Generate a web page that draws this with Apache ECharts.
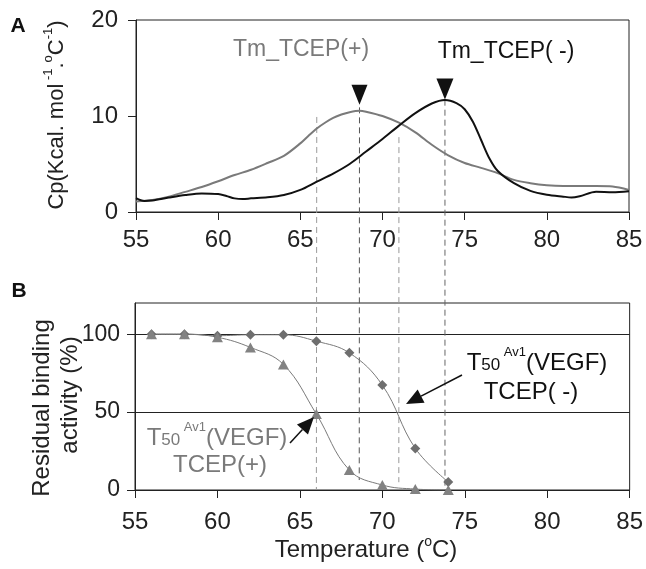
<!DOCTYPE html>
<html><head><meta charset="utf-8">
<script src="https://cdn.jsdelivr.net/npm/echarts@6/dist/echarts.min.js"></script>
<style>html,body{margin:0;padding:0;background:#fff}#c{width:646px;height:569px}</style>
</head><body><div id="c"></div>
<script>
// ---- Panel A: DSC curves (Cp vs temperature) ----
const tempPlus = [55,56,57,58,59,60,61,62,63,64,65,65.5,66,66.5,67,67.5,68,68.6,69,70,71,72,73,74,75,76,77,78,79,80,81,82,83,84,85];
const cpPlus   = [1.1,1.25,1.6,2.1,2.6,3.2,3.85,4.4,5.1,5.85,7.15,7.95,8.7,9.3,9.8,10.15,10.4,10.55,10.45,10.0,9.3,8.3,7.0,5.9,5.1,4.6,4.05,3.35,3.0,2.78,2.7,2.7,2.7,2.65,2.3];
const tempMinus = [55,55.5,56,57,58,59,60,60.5,61,61.5,62,63,64,65,66,67,68,69,70,71,72,73,73.8,74.5,75,75.5,76,76.5,77,78,79,80,81,81.5,82,83,84,85];
const cpMinus   = [1.45,1.15,1.2,1.5,1.77,1.94,1.87,1.67,1.42,1.35,1.42,1.53,1.77,2.3,3.16,4.0,5.0,6.3,7.6,9.0,10.3,11.3,11.67,11.35,10.7,9.4,7.5,5.6,4.3,3.0,2.2,1.8,1.6,1.52,1.65,2.1,2.05,2.15];
const peakPlus  = [68.6, 10.55];
const peakMinus = [73.8, 11.67];

// ---- Panel B: residual binding activity ----
const tempB    = [56,58,60,62,64,66,68,70,72,74];
const actPlus  = [100,100,98,91.5,80.6,48.7,12.8,3.2,0.6,0];
const actMinus = [100,100,99,99.6,99.6,95.5,88,67.3,26.7,5.1];

// ---- axes ----
const xTicks = [55,60,65,70,75,80,85];
const yTicksA = [0,10,20];
const yTicksB = [0,50,100];

// ---- dashed reference lines (temperature, top start in Cp, bottom end in %) ----
const refTemps     = [66, 68.6, 71, 73.8];
const refTopCp     = [9.9, 10.9, 7.8, 11.7];
const refBottomAct = [0, 6.4, 5, 0];

const FONT = 'Liberation Sans, Arial, sans-serif';
const zip = (a, b) => a.map((v, i) => [v, b[i]]);

function xAxisCfg(grid, margin) {
  return {
    gridIndex: grid, type: 'value', min: xTicks[0], max: xTicks[xTicks.length-1], interval: 5,
    axisLine: {show: true, lineStyle: {color: '#222', width: 1}},
    axisTick: {show: true, length: 8, lineStyle: {color: '#222'}},
    axisLabel: {color: '#222', fontSize: 24, fontFamily: FONT, margin: margin},
    splitLine: {show: false}
  };
}

const chart = echarts.init(document.getElementById('c'), null, {renderer: 'canvas'});
chart.setOption({
  animation: false,
  grid: [
    {left: 136, right: 17, top: 20, height: 192, show: true, borderColor: '#222', borderWidth: 1},
    {left: 135, right: 14, top: 303, height: 187, show: true, borderColor: '#222', borderWidth: 1}
  ],
  xAxis: [xAxisCfg(0, 16), xAxisCfg(1, 20)],
  yAxis: [
    {gridIndex: 0, type: 'value', min: yTicksA[0], max: yTicksA[yTicksA.length-1], interval: 10,
     axisLine: {show: true, lineStyle: {color: '#222'}},
     axisTick: {show: true, length: 8, lineStyle: {color: '#222'}},
     axisLabel: {color: '#222', fontSize: 24, fontFamily: FONT, margin: 18},
     splitLine: {show: false}},
    {gridIndex: 1, type: 'value', min: 0, max: 120, interval: 50,
     axisLine: {show: true, lineStyle: {color: '#222'}},
     axisTick: {show: true, length: 8, lineStyle: {color: '#222'}, customValues: yTicksB},
     axisLabel: {color: '#222', fontSize: 23, fontFamily: FONT, margin: 15,
       formatter: v => (yTicksB.indexOf(v) >= 0 ? String(v) : '')},
     splitLine: {show: true, lineStyle: {color: '#222', width: 1}}}
  ],
  series: [
    {type: 'line', xAxisIndex: 0, yAxisIndex: 0, data: zip(tempPlus, cpPlus), smooth: 0.3,
     showSymbol: false, lineStyle: {color: '#7a7a7a', width: 2},
     markPoint: {symbol: 'triangle', symbolRotate: 180, symbolSize: [16, 20], symbolOffset: [0, -16],
       itemStyle: {color: '#111'}, label: {show: false}, data: [{coord: peakPlus}]}},
    {type: 'line', xAxisIndex: 0, yAxisIndex: 0, data: zip(tempMinus, cpMinus), smooth: 0.3,
     showSymbol: false, lineStyle: {color: '#111', width: 2},
     markPoint: {symbol: 'triangle', symbolRotate: 180, symbolSize: [17, 21], symbolOffset: [0, -11],
       itemStyle: {color: '#111'}, label: {show: false}, data: [{coord: peakMinus}]}},
    {type: 'line', xAxisIndex: 1, yAxisIndex: 1, data: zip(tempB, actMinus), smooth: 0.4,
     symbol: 'diamond', symbolSize: [10, 10], itemStyle: {color: '#6e6e6e'},
     lineStyle: {color: '#7a7a7a', width: 1}},
    {type: 'line', xAxisIndex: 1, yAxisIndex: 1, data: zip(tempB, actPlus), smooth: 0.4,
     symbol: 'triangle', symbolSize: [11, 10], itemStyle: {color: '#828282'},
     lineStyle: {color: '#7a7a7a', width: 1}}
  ]
});

// ---- overlay graphics (reference lines spanning both panels, labels, arrows) ----
const refColors = ['#9a9a9a', '#555', '#9a9a9a', '#666'];
const graphics = [];
refTemps.forEach((t, i) => {
  const p1 = chart.convertToPixel({gridIndex: 0}, [t, refTopCp[i]]);
  const p2 = chart.convertToPixel({gridIndex: 1}, [t, refBottomAct[i]]);
  graphics.push({type: 'line', z: 1, silent: true,
    shape: {x1: p1[0], y1: p1[1], x2: p2[0], y2: p2[1]},
    style: {stroke: refColors[i], lineWidth: 1, lineDash: [6, 4]}});
});

function arrow(x1, y1, x2, y2) {
  const dx = x2 - x1, dy = y2 - y1, L = Math.hypot(dx, dy);
  const ux = dx / L, uy = dy / L, hl = 17, hw = 7.5;
  const bx = x2 - ux * hl, by = y2 - uy * hl;
  return [
    {type: 'line', z: 5, shape: {x1: x1, y1: y1, x2: bx, y2: by}, style: {stroke: '#111', lineWidth: 1.5}},
    {type: 'polygon', z: 5, shape: {points: [[x2, y2], [bx - uy * hw, by + ux * hw], [bx + uy * hw, by - ux * hw]]},
     style: {fill: '#111'}}
  ];
}
graphics.push(...arrow(290, 443, 314, 417));
graphics.push(...arrow(462, 375, 406, 404));

function txt(x, y, text, opts) {
  return {type: 'text', z: 6, x: x, y: y,
    style: Object.assign({text: text, fontFamily: FONT, fontSize: 23, fill: '#222',
      align: 'center', verticalAlign: 'middle'}, opts || {})};
}
const t50Rich = (col) => ({
  t: {fontSize: 24, fill: col, fontFamily: FONT, verticalAlign: 'bottom', lineHeight: 34},
  s: {fontSize: 17, fill: col, fontFamily: FONT, verticalAlign: 'bottom', lineHeight: 34, height: 20},
  u: {fontSize: 13, fill: col, fontFamily: FONT, verticalAlign: 'bottom', lineHeight: 34, height: 46},
  n: {fontSize: 24, fill: col, fontFamily: FONT, verticalAlign: 'bottom', lineHeight: 34}
});

graphics.push(txt(18, 26, 'A', {fontSize: 21, fontWeight: 'bold', fill: '#111'}));
graphics.push(txt(19, 291, 'B', {fontSize: 21, fontWeight: 'bold', fill: '#111'}));
graphics.push(txt(301, 50, 'Tm_TCEP(+)', {fontSize: 23, fill: '#7a7a7a'}));
graphics.push(txt(506, 52, 'Tm_TCEP( -)', {fontSize: 23, fill: '#111'}));
// Cp label (rotated)
graphics.push(Object.assign(txt(57, 115, 'Cp(Kcal. mol{s| -1}.{s|o}C{s|-1})', {fontSize: 22,
  rich: {s: {fontSize: 13, fontFamily: FONT, fill: '#222', verticalAlign: 'top', lineHeight: 30}}}),
  {rotation: Math.PI / 2}));
graphics.push(Object.assign(txt(42, 408, 'Residual binding', {fontSize: 24}), {rotation: Math.PI / 2}));
graphics.push(Object.assign(txt(70, 395, 'activity (%)', {fontSize: 24}), {rotation: Math.PI / 2}));
graphics.push(txt(366, 550, 'Temperature ({s|o}C)', {fontSize: 24,
  rich: {s: {fontSize: 14, fontFamily: FONT, fill: '#222', verticalAlign: 'top', lineHeight: 30}}}));
// T50 annotations
graphics.push(txt(217, 433, '{t|T}{s|50}{u| Av1}{n|(VEGF)}', {fill: '#7a7a7a', rich: t50Rich('#7a7a7a')}));
graphics.push(txt(220, 465, 'TCEP(+)', {fontSize: 24, fill: '#7a7a7a'}));
graphics.push(txt(537, 358, '{t|T}{s|50}{u| Av1}{n|(VEGF)}', {fill: '#111', rich: t50Rich('#111')}));
graphics.push(txt(531, 392, 'TCEP( -)', {fontSize: 24, fill: '#111'}));

chart.setOption({graphic: graphics});
</script></body></html>
